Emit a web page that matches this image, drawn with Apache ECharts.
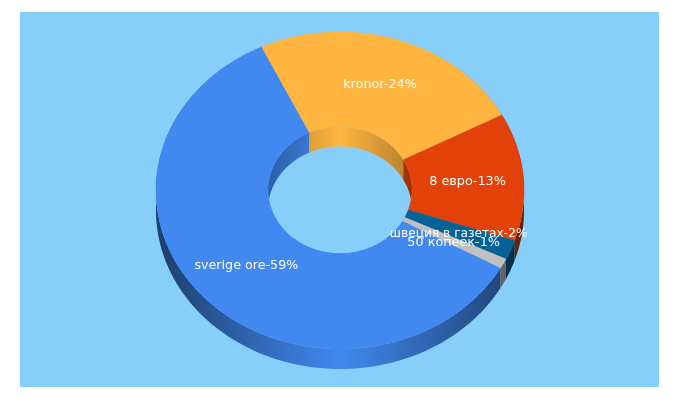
<!DOCTYPE html>
<html>
<head>
<meta charset="utf-8">
<style>html,body{margin:0;padding:0;background:#fff}#c{width:680px;height:400px}</style>
<script src="https://cdn.jsdelivr.net/npm/echarts@6/dist/echarts.min.js"></script>
</head>
<body>
<div id="c"></div>
<script>
const names = ['sverige ore', 'kronor', '8 евро', 'швеция в газетах', '50 копеек'];
const values = [59.9, 24.1, 13, 2, 1];
const percents = [59, 24, 13, 2, 1];
const colors = ['#4189f0', '#ffb540', '#e2420a', '#036297', '#c0c0c0'];

const startDeg = 119.2;
const cx = 340, cyOuter = 190.5, cyInner = 190;
const rxOuter = 184, ryOuter = 158.5, rxInner = 72, ryInner = 63.5, depth = 20;
const total = values.reduce((a, b) => a + b, 0);
const labelFonts = ['12.7px', '12.8px', '12.8px', '12.2px', '12.8px'];
const labelNudge = [0, 0, 1, 1.5, 1];

function range(i) {
  let s = startDeg;
  for (let k = 0; k < i; k++) s += values[k] / total * 360;
  return [s, s + values[i] / total * 360];
}
function arc(a0, a1, rx, ry, cy, dy) {
  const pts = [], n = Math.max(2, Math.ceil((a1 - a0) / 1));
  for (let j = 0; j <= n; j++) {
    const t = (a0 + (a1 - a0) * j / n) * Math.PI / 180;
    pts.push([cx + rx * Math.sin(t), cy - ry * Math.cos(t) + dy]);
  }
  return pts;
}
function shade(hex, f) {
  const n = parseInt(hex.slice(1), 16);
  const c = s => Math.round(((n >> s) & 255) * f);
  return 'rgb(' + c(16) + ',' + c(8) + ',' + c(0) + ')';
}
function wallFill(hex, rx, edge) {
  return { type: 'linear', global: true, x: cx - rx, y: 0, x2: cx + rx, y2: 0,
    colorStops: [{ offset: 0, color: shade(hex, edge) }, { offset: 0.5, color: shade(hex, 1) }, { offset: 1, color: shade(hex, edge) }] };
}
function walls(params) {
  const i = params.dataIndex, [a0, a1] = range(i);
  const wall = (rx, ry, cy, fill) => ({ type: 'polygon',
    shape: { points: arc(a0, a1, rx, ry, cy, 0).concat(arc(a0, a1, rx, ry, cy, depth).reverse()) },
    style: { fill: fill } });
  return { type: 'group', children: [
    wall(rxInner, ryInner, cyInner, wallFill(colors[i], rxInner, 0.7)),
    wall(rxOuter, ryOuter, cyOuter, wallFill(colors[i], rxOuter, 0.45))
  ] };
}
function tops(params) {
  const i = params.dataIndex, [a0, a1] = range(i);
  return { type: 'polygon',
    shape: { points: arc(a0, a1, rxOuter, ryOuter, cyOuter, 0).concat(arc(a0, a1, rxInner, ryInner, cyInner, 0).reverse()) },
    style: { fill: colors[i], stroke: colors[i], lineWidth: 0.4 } };
}
function labels(params) {
  const i = params.dataIndex, [a0, a1] = range(i);
  const m = (a0 + a1) / 2 * Math.PI / 180;
  return { type: 'text',
    style: { text: names[i] + '-' + percents[i] + '%',
      x: cx + (rxOuter + rxInner) / 2 * Math.sin(m),
      y: cyOuter - (ryOuter + ryInner) / 2 * Math.cos(m) + labelNudge[i],
      align: 'center', verticalAlign: 'middle',
      fill: '#fff', font: labelFonts[i] + ' "DejaVu Sans"' } };
}
const rows = values.map((v, i) => [v, i]);
const chart = echarts.init(document.getElementById('c'), null, { renderer: 'canvas' });
chart.setOption({
  animation: false,
  backgroundColor: '#ffffff',
  graphic: [{ type: 'rect', z: -1, shape: { x: 20, y: 12, width: 639, height: 375 }, style: { fill: '#87cefa' }, silent: true }],
  series: [
    { type: 'custom', coordinateSystem: 'none', z: 2, data: rows, renderItem: walls, silent: true },
    { type: 'custom', coordinateSystem: 'none', z: 3, data: rows, renderItem: tops, silent: true },
    { type: 'custom', coordinateSystem: 'none', z: 4, data: rows, renderItem: labels, silent: true }
  ]
});
</script>
</body>
</html>
